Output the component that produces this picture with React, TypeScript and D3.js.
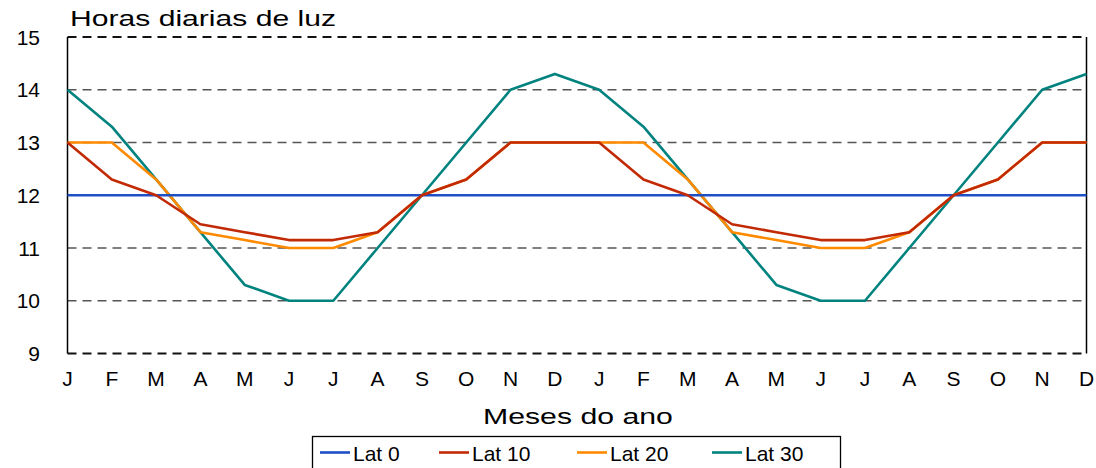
import React, { useRef, useEffect } from 'react';
import * as d3 from 'd3';

const months = ['J', 'F', 'M', 'A', 'M', 'J', 'J', 'A', 'S', 'O', 'N', 'D', 'J', 'F', 'M', 'A', 'M', 'J', 'J', 'A', 'S', 'O', 'N', 'D'];

const lat0 = [12, 12, 12, 12, 12, 12, 12, 12, 12, 12, 12, 12, 12, 12, 12, 12, 12, 12, 12, 12, 12, 12, 12, 12];
const lat10 = [13, 12.3, 12, 11.45, 11.3, 11.15, 11.15, 11.3, 12, 12.3, 13, 13, 13, 12.3, 12, 11.45, 11.3, 11.15, 11.15, 11.3, 12, 12.3, 13, 13];
const lat20 = [13, 13, 12.3, 11.3, 11.15, 11, 11, 11.3, 12, 12.3, 13, 13, 13, 13, 12.3, 11.3, 11.15, 11, 11, 11.3, 12, 12.3, 13, 13];
const lat30 = [14, 13.3, 12.3, 11.3, 10.3, 10, 10, 11, 12, 13, 14, 14.3, 14, 13.3, 12.3, 11.3, 10.3, 10, 10, 11, 12, 13, 14, 14.3];

const yTicks = [9, 10, 11, 12, 13, 14, 15];

const seriesNames = ['Lat 0', 'Lat 10', 'Lat 20', 'Lat 30'];
const seriesColors = ['#1f4fc4', '#c22a05', '#ff8a00', '#00837f'];
// paint order of the lines (Lat 10 ends up on top)
const drawOrder = [3, 2, 0, 1];

const FONT = '"Liberation Sans", Arial, Helvetica, sans-serif';

const App: React.FC = () => {
  const svgRef = useRef<SVGSVGElement>(null);
  const width = 1096;
  const height = 468;

  useEffect(() => {
    if (!svgRef.current) return;
    const svg = d3.select(svgRef.current);
    svg.selectAll('*').remove();

    const left = 67.5;
    const right = 1086.5;
    const top = 37;
    const bottom = 353.5;

    const x = d3.scalePoint<number>().domain(d3.range(months.length)).range([left, right]);
    const y = d3.scaleLinear().domain([9, 15]).range([bottom, top]);

    // gridlines (12 is hidden under Lat 0)
    svg
      .append('g')
      .selectAll('line')
      .data(yTicks.filter((t) => t !== 12))
      .join('line')
      .attr('x1', left)
      .attr('x2', right)
      .attr('y1', (d) => y(d))
      .attr('y2', (d) => y(d))
      .attr('stroke', (d) => (d === 9 || d === 15 ? '#111' : '#555'))
      .attr('stroke-width', (d) => (d === 9 || d === 15 ? 2 : 1.3))
      .attr('stroke-dasharray', '9,6');

    // left & right frame
    [left, right].forEach((xx) => {
      svg
        .append('line')
        .attr('x1', xx)
        .attr('x2', xx)
        .attr('y1', top)
        .attr('y2', bottom)
        .attr('stroke', '#000')
        .attr('stroke-width', 1.5);
    });

    // y tick labels
    svg
      .append('g')
      .selectAll('text')
      .data(yTicks)
      .join('text')
      .attr('x', 40)
      .attr('y', (d) => y(d))
      .attr('dy', '0.36em')
      .attr('text-anchor', 'end')
      .attr('font-family', FONT)
      .attr('font-size', '21px')
      .attr('fill', '#000')
      .text((d) => d);

    // month labels
    svg
      .append('g')
      .selectAll('text')
      .data(months)
      .join('text')
      .attr('x', (_, i) => x(i) as number)
      .attr('y', 386)
      .attr('text-anchor', 'middle')
      .attr('font-family', FONT)
      .attr('font-size', '21px')
      .attr('fill', '#000')
      .text((d) => d);

    // series
    const allSeries = [lat0, lat10, lat20, lat30];
    const line = d3
      .line<number>()
      .x((_, i) => x(i) as number)
      .y((d) => y(d));

    drawOrder.forEach((k) => {
      svg
        .append('path')
        .datum(allSeries[k])
        .attr('d', line)
        .attr('fill', 'none')
        .attr('stroke', seriesColors[k])
        .attr('stroke-width', 2.6)
        .attr('stroke-linejoin', 'round');
    });

    // titles are stretched wide in the original: scale glyphs horizontally
    const wideText = (label: string, x0: number, y0: number, targetWidth: number) => {
      const g = svg.append('g');
      const t = g
        .append('text')
        .attr('x', 0)
        .attr('y', 0)
        .attr('font-family', FONT)
        .attr('font-size', '22px')
        .attr('fill', '#000')
        .text(label);
      const w = (t.node() as SVGTextElement).getComputedTextLength() || targetWidth;
      g.attr('transform', `translate(${x0},${y0}) scale(${targetWidth / w},1)`);
    };

    wideText('Horas diarias de luz', 70, 26, 266);
    wideText('Meses do ano', 483, 424, 190);

    // legend
    const legend = svg.append('g');
    legend
      .append('rect')
      .attr('x', 312.5)
      .attr('y', 436.5)
      .attr('width', 528)
      .attr('height', 40)
      .attr('fill', '#fff')
      .attr('stroke', '#000')
      .attr('stroke-width', 1.3);

    const legendX = [320, 439, 577, 712];
    seriesNames.forEach((name, k) => {
      legend
        .append('line')
        .attr('x1', legendX[k])
        .attr('x2', legendX[k] + 30)
        .attr('y1', 452.5)
        .attr('y2', 452.5)
        .attr('stroke', seriesColors[k])
        .attr('stroke-width', 2.6);
      legend
        .append('text')
        .attr('x', legendX[k] + 33)
        .attr('y', 461)
        .attr('font-family', FONT)
        .attr('font-size', '21px')
        .attr('fill', '#000')
        .text(name);
    });
  }, []);

  return (
    <svg
      ref={svgRef}
      width={width}
      height={height}
      style={{ position: 'absolute', left: 0, top: 0, background: '#fff' }}
    />
  );
};

export default App;
